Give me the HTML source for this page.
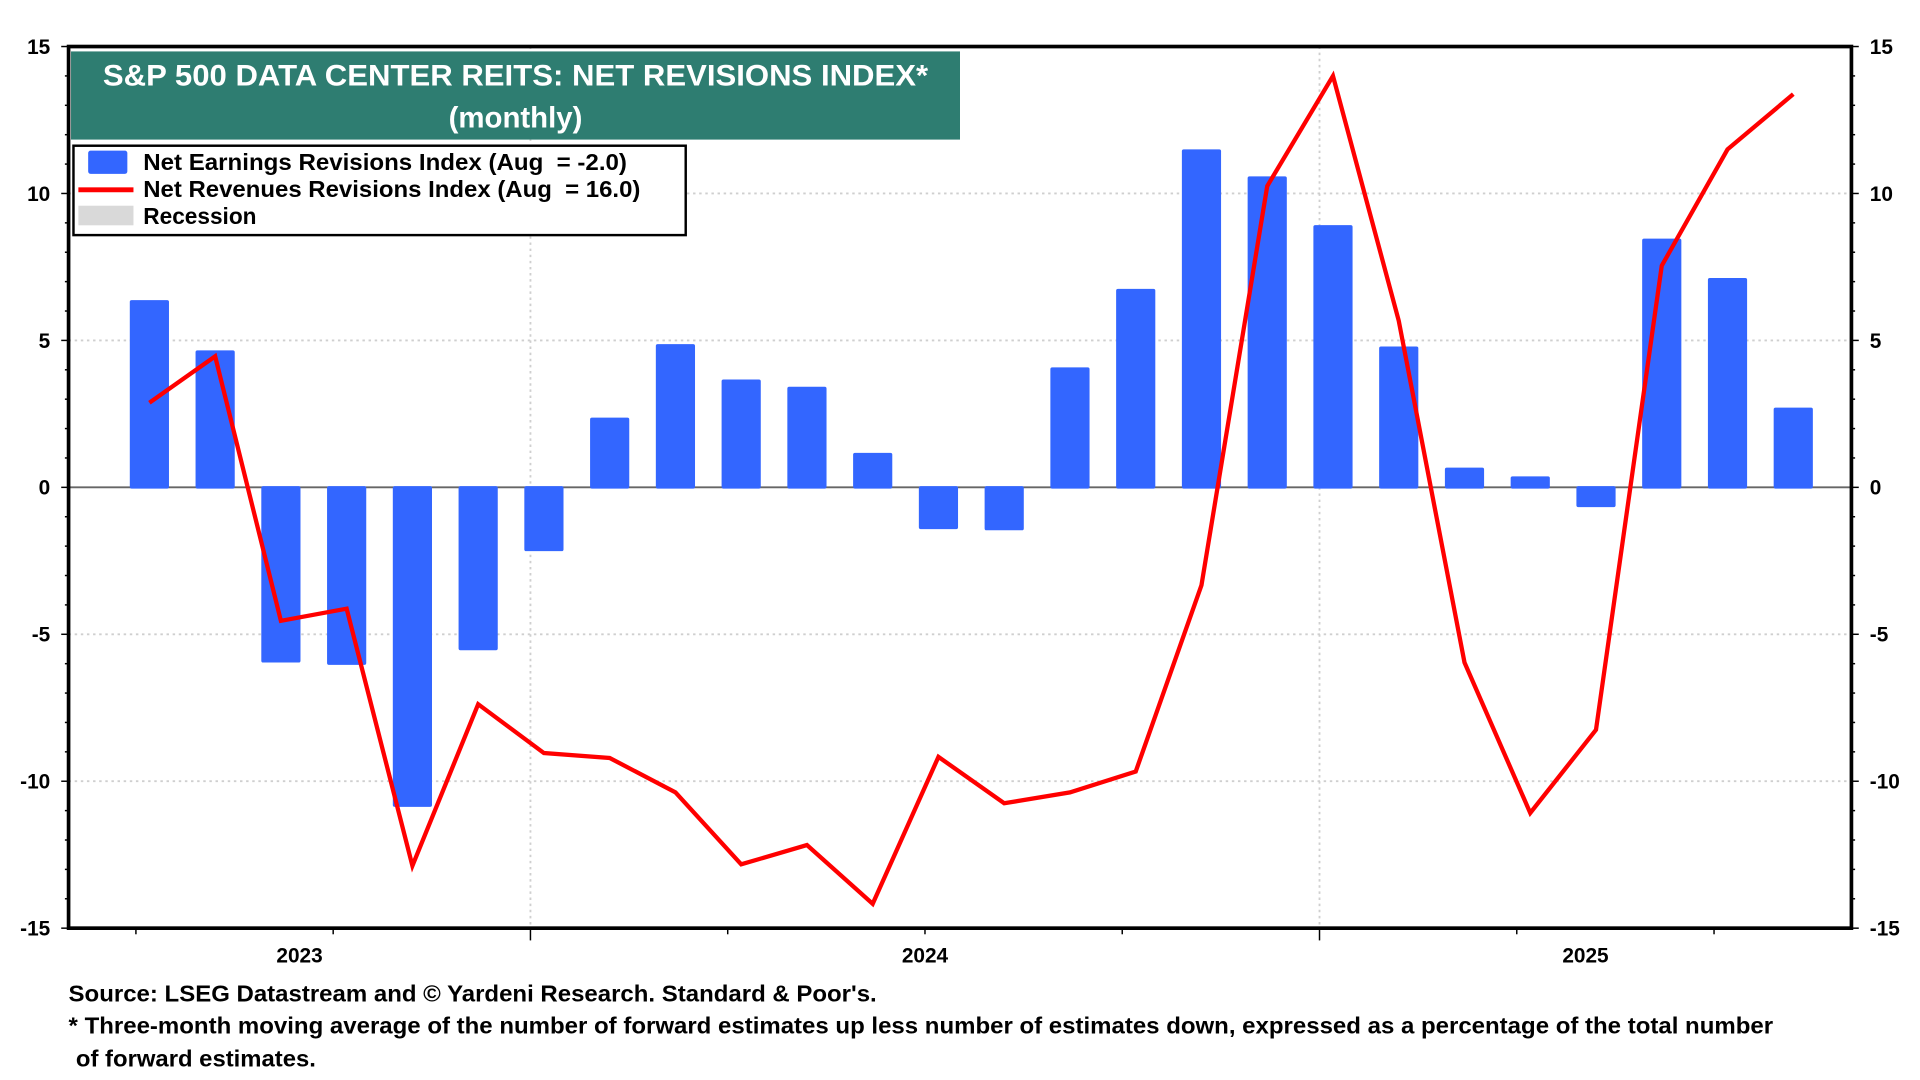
<!DOCTYPE html>
<html><head><meta charset="utf-8"><style>
html,body{margin:0;padding:0;background:#fff;}
svg{display:block;font-family:"Liberation Sans",Arial,sans-serif;font-weight:bold;}
</style></head><body>
<svg id="chart" width="1920" height="1080" viewBox="0 0 1568 882" preserveAspectRatio="none" xmlns="http://www.w3.org/2000/svg">
<g id="grid"></g>
<g id="bars"></g>
<path id="revline" fill="none" stroke="#ff0000" stroke-width="3.5" stroke-linejoin="miter"/>
<g id="axes"></g>
<g>
<rect x="58" y="42" width="726" height="72" fill="#2e7d71"/>
<text x="84" y="70" fill="#fff" font-size="24" textLength="674" lengthAdjust="spacingAndGlyphs">S&amp;P 500 DATA CENTER REITS: NET REVISIONS INDEX*</text>
<text x="421" y="104" text-anchor="middle" fill="#fff" font-size="24">(monthly)</text>
</g>
<g>
<rect x="60" y="119" width="500" height="73" fill="#fff" stroke="#000" stroke-width="2"/>
<rect x="72" y="123" width="32" height="19" rx="2" fill="#3366ff"/>
<text x="117" y="139" font-size="18.5" textLength="395" lengthAdjust="spacingAndGlyphs">Net Earnings Revisions Index (Aug &#160;= -2.0)</text>
<rect x="64" y="153" width="45" height="4" fill="#ff0000"/>
<text x="117" y="161" font-size="18.5" textLength="406" lengthAdjust="spacingAndGlyphs">Net Revenues Revisions Index (Aug &#160;= 16.0)</text>
<rect x="64" y="168" width="45" height="16" fill="#d9d9d9"/>
<text x="117" y="183" font-size="18.5">Recession</text>
</g>
<g>
<text x="56" y="818" font-size="18.5" textLength="660" lengthAdjust="spacingAndGlyphs">Source: LSEG Datastream and © Yardeni Research. Standard &amp; Poor's.</text>
<text x="56" y="844" font-size="18.5" textLength="1392" lengthAdjust="spacingAndGlyphs">* Three-month moving average of the number of forward estimates up less number of estimates down, expressed as a percentage of the total number</text>
<text x="62" y="871" font-size="18.5" textLength="196" lengthAdjust="spacingAndGlyphs">of forward estimates.</text>
</g>
</svg>
<script>
const months = ["2023-07","2023-08","2023-09","2023-10","2023-11","2023-12","2024-01","2024-02","2024-03","2024-04","2024-05","2024-06","2024-07","2024-08","2024-09","2024-10","2024-11","2024-12","2025-01","2025-02","2025-03","2025-04","2025-05","2025-06","2025-07","2025-08"];
const earnings = [6.33,4.62,-5.92,-6.0,-10.83,-5.5,-2.13,2.33,4.83,3.63,3.38,1.13,-1.38,-1.42,4.04,6.71,11.46,10.54,8.88,4.75,0.63,0.33,-0.63,8.42,7.08,2.67];
const revenues = [2.88,4.46,-4.54,-4.13,-12.88,-7.38,-9.04,-9.21,-10.38,-12.83,-12.17,-14.17,-9.17,-10.75,-10.38,-9.67,-3.33,10.25,14.0,5.67,-5.96,-11.08,-8.25,7.54,11.5,13.38];
const yTicks = [15,10,5,0,-5,-10,-15];
const yearLabels = ["2023","2024","2025"];

const NS="http://www.w3.org/2000/svg";
const L=56,R=1512,T=38,B=758;
function y(v){return 398 - v*24;}
function x(i){return 122 + i*53.7;}
function mk(tag,attrs,parent){const e=document.createElementNS(NS,tag);for(const k in attrs)e.setAttribute(k,attrs[k]);parent.appendChild(e);return e;}
const grid=document.getElementById('grid'),bars=document.getElementById('bars'),axes=document.getElementById('axes');
yTicks.forEach(v=>{ if(v===15||v===-15)return;
  const g=mk('line',{x1:L,x2:R,y1:y(v),y2:y(v),stroke:v===0?'#666':'#cfcfcf','stroke-width':1.5,'stroke-dasharray':v===0?'':'2,3'},grid);
  
  
});
const yb=[6,18].map(i=>x(i)-11);
yb.forEach(px=>{const g=mk('line',{x1:px,x2:px,y1:T,y2:B,stroke:'#cfcfcf','stroke-width':1.5,'stroke-dasharray':'2,3'},grid);
  
  });
earnings.forEach((v,i)=>{const top=Math.min(y(v),y(0)),h=Math.abs(y(v)-y(0));
  const r=mk('rect',{x:x(i)-16,y:top-1,width:32,height:h+2,rx:1.5,fill:'#3366ff'},bars);
  
  });
document.getElementById('revline').setAttribute('d',revenues.map((v,i)=>(i?'L':'M')+x(i).toFixed(1)+','+y(v).toFixed(1)).join(' '));
mk('rect',{x:L,y:T,width:R-L,height:B-T,fill:'none',stroke:'#000','stroke-width':3},axes);
for(let v=-15;v<=15;v++){const major=v%5===0;
  mk('line',{x1:L-(major?6:3),x2:L,y1:y(v),y2:y(v),stroke:'#000','stroke-width':1.2},axes);
  mk('line',{x1:R,x2:R+(major?6:3),y1:y(v),y2:y(v),stroke:'#000','stroke-width':1.2},axes);}
yTicks.forEach(v=>{
  const a=mk('text',{x:41,y:y(v)+6,'text-anchor':'end','font-size':17},axes);a.textContent=v;
  
  
  const b=mk('text',{x:1527,y:y(v)+6,'font-size':17},axes);b.textContent=v;
  
  });
const qStep=(yb[1]-yb[0])/4;
for(let k=-3;k<=6;k++){const px=yb[0]+k*qStep; if(px<L||px>R)continue;
  const yr=(k%4===0);
  mk('line',{x1:px,x2:px,y1:B,y2:B+(yr?10:5),stroke:'#000','stroke-width':1.2},axes);}
const labX=[(L+yb[0])/2,(yb[0]+yb[1])/2,(yb[1]+R)/2];
yearLabels.forEach((s,i)=>{const t=mk('text',{x:labX[i],y:786,'text-anchor':'middle','font-size':17},axes);t.textContent=s;
  
  });
</script>
</body></html>
